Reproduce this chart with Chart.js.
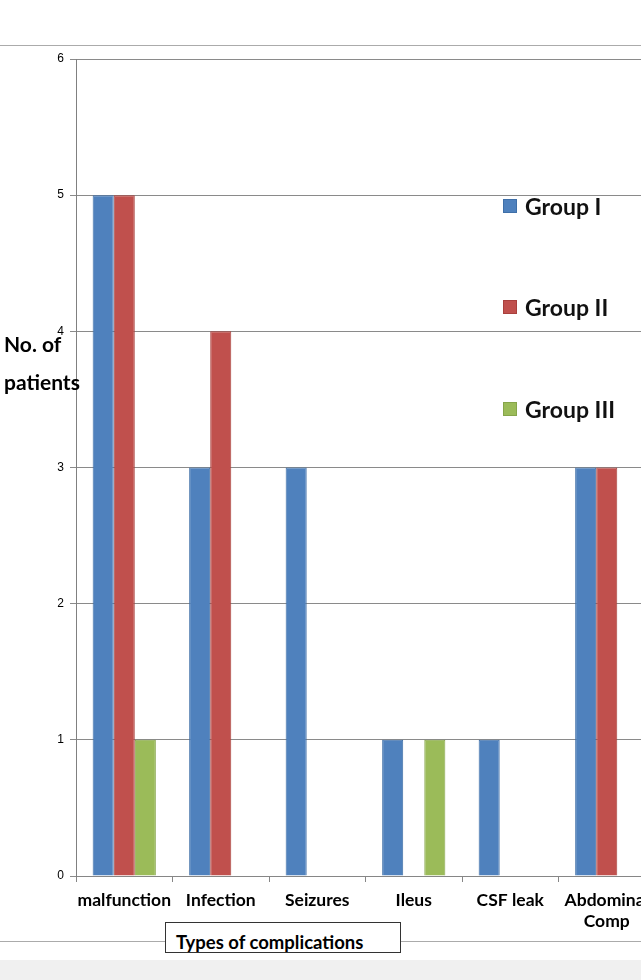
<!DOCTYPE html>
<html lang="en">
<head>
    <meta charset="UTF-8">
    <title>Types of complications</title>
    <style>
        body { margin: 0; width: 641px; height: 980px; overflow: hidden; position: relative; background: #fff; font-family: Lato, "Liberation Sans", sans-serif; }
        #wrap { position: absolute; left: 0; top: 0; width: 700px; height: 980px; }
        .hline { position: absolute; left: 0; width: 641px; height: 1px; background: #ababab; }
        .ytitle { position: absolute; left: 4px; font-weight: bold; font-size: 21px; line-height: 24px; color: #000; }
        .legend-item { position: absolute; left: 503px; display: flex; align-items: center; height: 30px; font-size: 23px; font-weight: bold; color: #111; }
        .legend-box { width: 14px; height: 14px; margin-right: 8px; box-sizing: border-box; }
        #xtitle { position: absolute; left: 165px; top: 922px; width: 236px; height: 31px; box-sizing: border-box; border: 1px solid #333; background: #fff; font-weight: bold; font-size: 18.5px; padding-left: 10px; line-height: 38px; overflow: hidden; white-space: nowrap; }
        #band { position: absolute; left: 0; top: 960px; width: 641px; height: 20px; background: #f0f0f0; }
    </style>
</head>
<body>
    <div class="hline" style="top:45px"></div>
    <div id="wrap"><canvas id="chart" width="700" height="980"></canvas></div>
    <div class="ytitle" style="top:332px">No. of</div>
    <div class="ytitle" style="top:370px">patients</div>
    <div id="legend"></div>
    <div class="hline" style="top:941px"></div>
    <div id="xtitle">Types of complications</div>
    <div id="band"></div>

    <script src="https://cdn.jsdelivr.net/npm/chart.js"></script>
    <script>
        // Data
        const categories = ['malfunction', 'Infection', 'Seizures', 'Ileus', 'CSF leak', ['Abdominal', 'Comp']];
        const seriesNames = ['Group I', 'Group II', 'Group III'];
        const group1 = [5, 3, 3, 1, 1, 3];
        const group2 = [5, 4, 0, 0, 0, 3];
        const group3 = [1, 0, 0, 1, 0, 0];
        const yTicks = [0, 1, 2, 3, 4, 5, 6];

        const fills = ['#4f81bd', '#c0504d', '#9bbb59'];
        const edges = ['#3f6fa8', '#a9403d', '#86a54a'];
        const values = [group1, group2, group3];

        const datasets = seriesNames.map((name, i) => ({
            label: name,
            data: values[i],
            backgroundColor: fills[i],
            borderColor: edges[i],
            borderWidth: ctx => (ctx.raw > 0 ? 1 : 0),
            categoryPercentage: 0.655,
            barPercentage: 1
        }));

        new Chart(document.getElementById('chart'), {
            type: 'bar',
            data: { labels: categories, datasets: datasets },
            options: {
                responsive: false,
                devicePixelRatio: 1,
                animation: false,
                layout: { padding: { top: 59, left: 0, right: 45, bottom: 0 } },
                plugins: { legend: { display: false }, tooltip: { enabled: false } },
                scales: {
                    x: {
                        afterFit: s => { s.height = 104; },
                        grid: { drawOnChartArea: false, drawTicks: true, tickLength: 6, color: '#868686' },
                        border: { color: '#868686' },
                        ticks: {
                            autoSkip: false, maxRotation: 0, color: '#000', padding: 8,
                            font: { family: 'Lato', size: 17.5, weight: 'bold', lineHeight: 1.2 }
                        }
                    },
                    y: {
                        min: 0, max: 6,
                        afterFit: s => { s.width = 76; },
                        afterBuildTicks: s => { s.ticks = yTicks.map(v => ({ value: v })); },
                        grid: { color: '#8a8a8a', tickLength: 6 },
                        border: { color: '#808080' },
                        ticks: { color: '#000', padding: 6, font: { family: 'Liberation Sans', size: 12 } }
                    }
                }
            }
        });

        // Legend
        const legendTops = [191, 292, 394];
        const legend = document.getElementById('legend');
        seriesNames.forEach((name, i) => {
            const item = document.createElement('div');
            item.className = 'legend-item';
            item.style.top = legendTops[i] + 'px';
            item.innerHTML = '<span class="legend-box" style="background:' + fills[i] + ';border:1px solid ' + edges[i] + '"></span>' + name;
            legend.appendChild(item);
        });
    </script>
</body>
</html>
